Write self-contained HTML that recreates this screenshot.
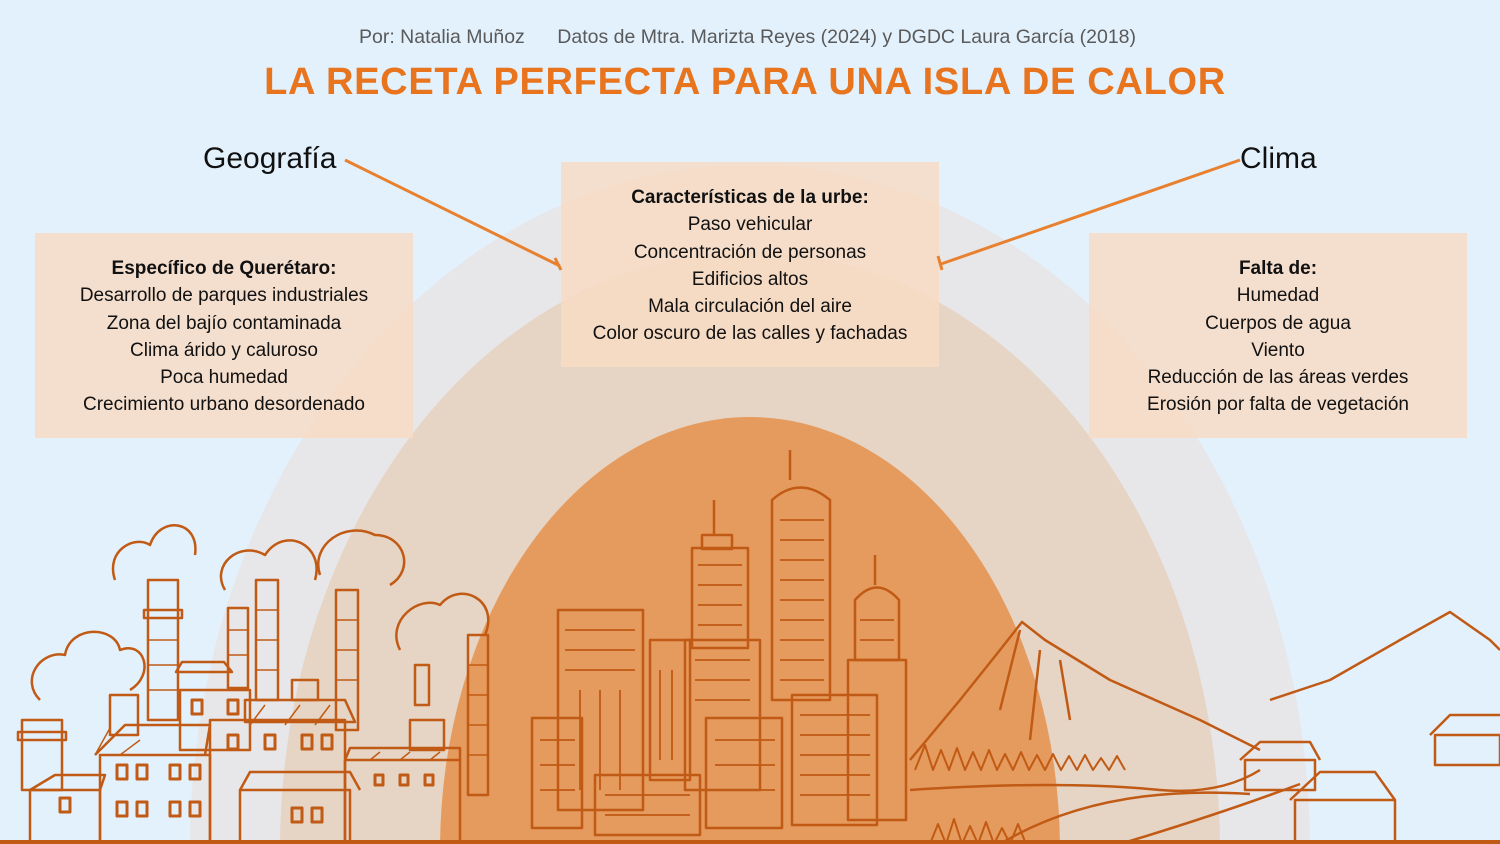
<!DOCTYPE html>
<html><head><meta charset="utf-8"><style>
html,body{margin:0;padding:0;width:1500px;height:844px;overflow:hidden}
body{background:#e3f1fc;position:relative;font-family:"Liberation Sans","DejaVu Sans",sans-serif}
.sub{position:absolute;top:26px;left:0;width:1495px;text-align:center;font-size:19.5px;color:#5a5a5a;white-space:nowrap}
.title{position:absolute;top:61px;left:0;width:1490px;text-align:center;font-size:38px;font-weight:bold;color:#e8741e;letter-spacing:0.7px;white-space:nowrap}
.box{position:absolute;width:378px;height:205px;background:rgba(247,219,196,0.85);text-align:center;font-size:19px;line-height:27.3px;color:#111;box-sizing:border-box;padding-top:22px;overflow:hidden}
.box b{font-weight:bold}
.lab{position:absolute;font-size:30px;color:#111}
svg{position:absolute;left:0;top:0;display:block}
</style></head><body>
<svg width="1500" height="844" viewBox="0 0 1500 844">
<ellipse cx="750" cy="850" rx="560" ry="685" fill="#e7e6e8"/>
<ellipse cx="750" cy="850" rx="470" ry="598" fill="#e6d4c4"/>
<ellipse cx="750" cy="850" rx="310" ry="433" fill="#e69b5e"/>
</svg>
<div class="sub">Por: Natalia Muñoz &nbsp;&nbsp;&nbsp;&nbsp; Datos de Mtra. Marizta Reyes (2024) y DGDC Laura García (2018)</div>
<div class="title">LA RECETA PERFECTA PARA UNA ISLA DE CALOR</div>
<div class="lab" style="left:203px;top:142px">Geografía</div>
<div class="lab" style="left:1240px;top:142px">Clima</div>
<div class="box" style="left:35px;top:233px"><b>Específico de Querétaro:</b><br>Desarrollo de parques industriales<br>Zona del bajío contaminada<br>Clima árido y caluroso<br>Poca humedad<br>Crecimiento urbano desordenado</div>
<div class="box" style="left:561px;top:162px"><b>Características de la urbe:</b><br>Paso vehicular<br>Concentración de personas<br>Edificios altos<br>Mala circulación del aire<br>Color oscuro de las calles y fachadas</div>
<div class="box" style="left:1089px;top:233px"><b>Falta de:</b><br>Humedad<br>Cuerpos de agua<br>Viento<br>Reducción de las áreas verdes<br>Erosión por falta de vegetación</div>
<svg width="1500" height="844" viewBox="0 0 1500 844">
<g stroke="#e8812f" stroke-width="3" fill="none">
<line x1="345" y1="160" x2="560" y2="266"/><line x1="555" y1="258" x2="561" y2="270"/>
<line x1="1240" y1="160" x2="941" y2="264"/><line x1="938" y1="256" x2="942" y2="270"/>
</g>
<g stroke="#c05a14" stroke-width="2.5" fill="none" stroke-linejoin="round">
<path d="M40,700 c-20,-20 0,-50 25,-45 c5,-30 50,-30 55,-5 c25,-10 35,25 10,40"/>
<path d="M115,580 c-10,-30 20,-45 35,-35 c10,-30 50,-25 45,10"/>
<path d="M225,590 c-15,-25 15,-50 40,-35 c20,-30 60,-10 50,25"/>
<path d="M320,575 c-10,-30 25,-55 55,-40 c30,0 40,35 15,50"/>
<path d="M400,650 c-15,-30 20,-55 40,-45 c20,-25 60,-5 45,30"/>
<rect x="148" y="580" width="30" height="140"/><rect x="144" y="610" width="38" height="8"/>
<rect x="228" y="608" width="20" height="80"/><rect x="256" y="580" width="22" height="120"/>
<rect x="336" y="590" width="22" height="140"/><rect x="468" y="635" width="20" height="160"/>
<rect x="415" y="665" width="14" height="40"/><rect x="110" y="695" width="28" height="40"/>
<rect x="22" y="720" width="40" height="70"/><rect x="18" y="732" width="48" height="8"/>
<g stroke-width="1.5">
<path d="M148,640h30M148,665h30M148,690h30M256,610h22M256,640h22M256,670h22M336,620h22M336,650h22M336,680h22M468,665h20M468,695h20M468,725h20M468,755h20M228,630h20M228,655h20"/>
<path d="M110,728 l-15,27 M140,740 l-20,15 M265,705 l-15,20 M300,705 l-15,20 M330,705 l-15,20 M380,752 l-10,8 M410,752 l-10,8 M440,752 l-10,8"/>
</g>
<rect x="30" y="790" width="70" height="54"/><path d="M30,790 l25,-15 h50 l-5,15"/>
<rect x="100" y="755" width="110" height="89"/><path d="M95,755 l30,-30 h85 l-5,30"/>
<rect x="180" y="690" width="70" height="60"/><path d="M182,662 h42 l8,10 h-56z"/>
<rect x="210" y="720" width="135" height="124"/><path d="M245,700 h100 l10,22 h-110z"/>
<rect x="240" y="790" width="110" height="54"/><path d="M240,790 l10,-18 h100 l10,18"/>
<rect x="345" y="760" width="115" height="84"/><path d="M345,760 l5,-12 h110 v12"/>
<rect x="292" y="680" width="26" height="20"/><rect x="410" y="720" width="34" height="30"/>
<g stroke-width="3">
<rect x="117" y="765" width="10" height="14"/><rect x="137" y="765" width="10" height="14"/><rect x="170" y="765" width="10" height="14"/><rect x="190" y="765" width="10" height="14"/>
<rect x="117" y="802" width="10" height="14"/><rect x="137" y="802" width="10" height="14"/><rect x="170" y="802" width="10" height="14"/><rect x="190" y="802" width="10" height="14"/>
<rect x="228" y="735" width="10" height="14"/><rect x="265" y="735" width="10" height="14"/><rect x="302" y="735" width="10" height="14"/><rect x="322" y="735" width="10" height="14"/>
<rect x="292" y="808" width="10" height="14"/><rect x="312" y="808" width="10" height="14"/><rect x="60" y="798" width="10" height="14"/>
<rect x="192" y="700" width="10" height="14"/><rect x="228" y="700" width="10" height="14"/>
<rect x="375" y="775" width="8" height="10"/><rect x="400" y="775" width="8" height="10"/><rect x="425" y="775" width="8" height="10"/>
</g>
<rect x="558" y="610" width="85" height="200"/><rect x="532" y="718" width="50" height="110"/>
<rect x="650" y="640" width="40" height="140"/><rect x="692" y="548" width="56" height="100"/><rect x="702" y="535" width="30" height="14"/>
<rect x="685" y="640" width="75" height="150"/><rect x="706" y="718" width="76" height="110"/>
<path d="M772,500 q28,-25 58,0 v200 h-58z"/><line x1="790" y1="450" x2="790" y2="480"/>
<rect x="792" y="695" width="85" height="130"/><path d="M855,600 q22,-25 44,0 v60 h-44z"/><rect x="848" y="660" width="58" height="160"/>
<rect x="595" y="775" width="105" height="60"/>
<line x1="714" y1="500" x2="714" y2="535"/><line x1="875" y1="555" x2="875" y2="585"/>
<g stroke-width="1.8">
<path d="M780,520h44M780,540h44M780,560h44M780,580h44M780,600h44M780,620h44M780,640h44M780,660h44M780,680h44"/>
<path d="M565,630h70M565,650h70M565,670h70M698,565h44M698,585h44M698,605h44M698,625h44"/>
<path d="M800,715h70M800,735h70M800,755h70M800,775h70M800,795h70M715,740h60M715,765h60M715,790h60"/>
<path d="M860,620h34M860,640h34M540,740h35M540,765h35M540,790h35M605,795h85M605,815h85"/>
<path d="M580,690v100M600,690v100M620,690v100M695,660h55M695,680h55M695,700h55M660,670v90M672,670v90"/>
</g>
<path d="M910,760 L960,700 L1000,650 L1022,622 L1045,640 L1110,680 L1200,720 L1260,750"/>
<path d="M1270,700 L1330,680 L1400,640 L1450,612 L1490,640 L1500,650"/>
<path d="M1020,630 l-20,80 M1040,650 l-10,90 M1060,660 l10,60"/>
<path d="M910,790 q150,-10 250,0 q60,5 100,-20"/>
<g stroke-width="2">
<path d="M915,770 l10,-25 l8,25 l8,-20 l8,20 l8,-22 l8,22 l8,-18 l8,18 l8,-20 l8,20 l8,-16 l8,16 l8,-18 l8,18 l8,-15 l8,15 l8,-16 l8,16 l8,-14 l8,14 l8,-15 l8,15 l8,-12 l8,12 l8,-14 l8,14"/>
<path d="M930,844 l8,-20 l8,20 l8,-25 l8,25 l8,-18 l8,18 l8,-22 l8,22 l8,-16 l8,16 l8,-20 l8,20"/>
</g>
<rect x="1245" y="760" width="70" height="30"/><path d="M1240,760 l20,-18 h50 l10,18"/>
<rect x="1295" y="800" width="100" height="44"/><path d="M1290,800 l30,-28 h55 l20,28"/>
<rect x="1435" y="735" width="65" height="30"/><path d="M1430,735 l20,-20 h50"/>
<path d="M1000,844 q100,-60 250,-50 M1120,844 q100,-30 180,-60"/>
<line x1="0" y1="842" x2="1500" y2="842" stroke-width="4"/>
</g>
</svg>
</body></html>
